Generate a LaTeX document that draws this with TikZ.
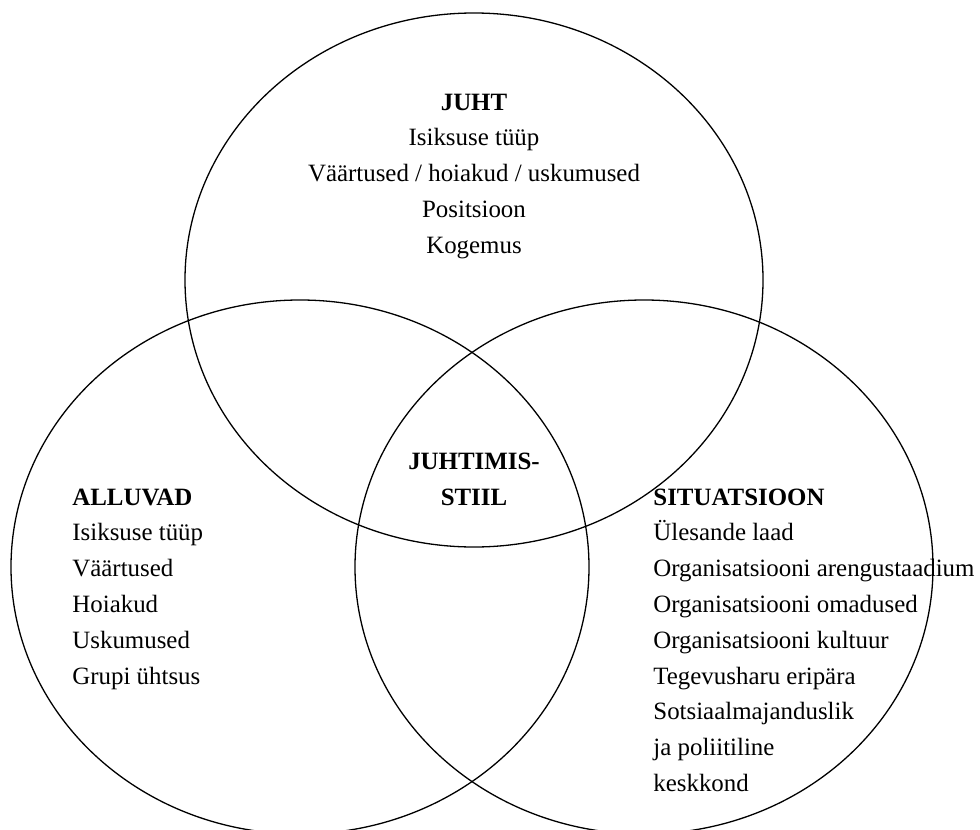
\documentclass[tikz,border=0pt]{standalone}
\usepackage{fontspec}
\setmainfont{Liberation Serif}

\tikzset{
	item/.style={inner sep=0pt, font=\fontsize{12.45}{15}\selectfont},
	head/.style={item, font=\fontsize{12.45}{15}\selectfont\bfseries},
	rim/.style={line width=0.65pt},
}

\begin{document}
\begin{tikzpicture}[x=0.5pt, y=0.5pt]

	% ---- parameters

	\def\rx{289}
	\def\ry{267}
	\def\gap{35.8}

	\useasboundingbox (0,0) rectangle (980,-830);
	\clip (0,0) rectangle (980,-830);

	% ---- centres

	\coordinate (J) at (474,-280);
	\coordinate (A) at (300,-567);
	\coordinate (S) at (644,-567);

	% ---- ellipses

	\foreach \c in {J,A,S} { \draw[rim] (\c) ellipse [x radius=\rx, y radius=\ry]; }

	% ---- juht

	\node[head, anchor=base] (juht) at (474,-110) {JUHT};
	\foreach [count=\i] \txt in {Isiksuse tüüp, Väärtused / hoiakud / uskumused, Positsioon, Kogemus} {
		\node[item, anchor=base] (juht-\i) at (474,{-110-\i*\gap}) {\txt};
	}

	% ---- alluvad

	\node[head, anchor=base west] (alluvad) at (72,-505) {ALLUVAD};
	\foreach [count=\i] \txt in {Isiksuse tüüp, Väärtused, Hoiakud, Uskumused, Grupi ühtsus} {
		\node[item, anchor=base west] (alluvad-\i) at (72,{-505-\i*\gap}) {\txt};
	}

	% ---- situatsioon

	\node[head, anchor=base west] (situatsioon) at (653,-505) {SITUATSIOON};
	\foreach [count=\i] \txt in {Ülesande laad, Organisatsiooni arengustaadium, Organisatsiooni omadused,
		Organisatsiooni kultuur, Tegevusharu eripära, Sotsiaalmajanduslik, ja poliitiline, keskkond} {
		\node[item, anchor=base west] (situatsioon-\i) at (653,{-505-\i*\gap}) {\txt};
	}

	% ---- middle

	\node[head, anchor=base] (stiil-1) at (474,{-505+\gap}) {JUHTIMIS-};
	\node[head, anchor=base] (stiil-2) at (474,-505) {STIIL};

\end{tikzpicture}
\end{document}
